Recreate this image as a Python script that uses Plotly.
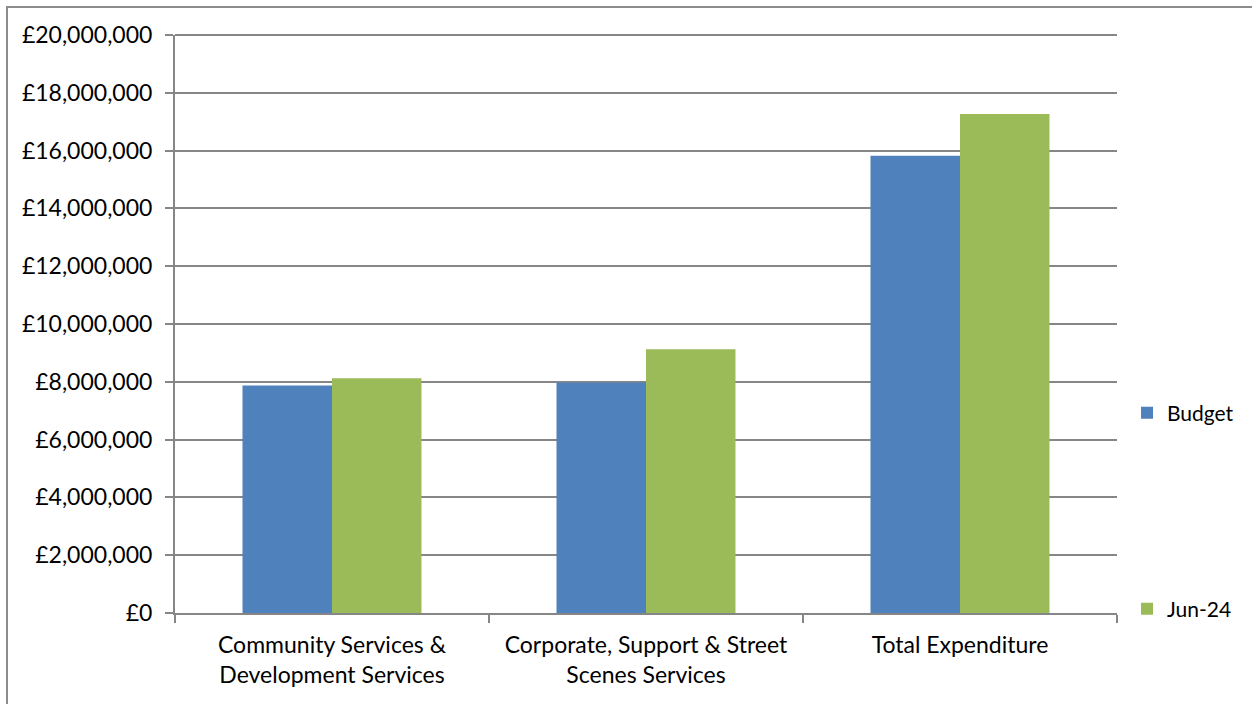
import plotly.graph_objects as go

categories = ["Community Services &<br>Development Services",
              "Corporate, Support & Street<br>Scenes Services",
              "Total Expenditure"]
budget = [7870000, 7980000, 15820000]
jun24 = [8120000, 9130000, 17270000]
tick_vals = [0, 2000000, 4000000, 6000000, 8000000, 10000000,
             12000000, 14000000, 16000000, 18000000, 20000000]
tick_text = ["£0", "£2,000,000", "£4,000,000", "£6,000,000", "£8,000,000",
             "£10,000,000", "£12,000,000", "£14,000,000", "£16,000,000",
             "£18,000,000", "£20,000,000"]

FONT = "Lato"
fig = go.Figure()
fig.add_trace(go.Bar(x=categories, y=budget, name="Budget",
                     marker=dict(color="#4f81bd", line=dict(width=0)),
                     legend="legend"))
fig.add_trace(go.Bar(x=categories, y=jun24, name="Jun-24",
                     marker=dict(color="#9bbb59", line=dict(width=0)),
                     legend="legend2"))

W, H = 1252, 704
L, R, T, B = 175, 1117, 35, 613
pw, ph = R - L, B - T

def px_x(p):
    return (p - L) / pw

def px_y(p):
    return (B - p) / ph

GRID = "#868686"
fig.update_layout(
    width=W, height=H,
    margin=dict(l=L, r=W - R, t=T, b=H - B, autoexpand=False),
    paper_bgcolor="white", plot_bgcolor="white",
    font=dict(family=FONT, size=23, color="#000000"),
    barmode="group", bargap=0.43, bargroupgap=0,
    showlegend=True,
    legend=dict(x=px_x(1127), y=px_y(413), xanchor="left", yanchor="middle",
                bgcolor="rgba(0,0,0,0)", font=dict(size=21, family=FONT),
                itemwidth=30),
    legend2=dict(x=px_x(1127), y=px_y(609), xanchor="left", yanchor="middle",
                 bgcolor="rgba(0,0,0,0)", font=dict(size=21, family=FONT),
                 itemwidth=30),
    xaxis=dict(showline=True, linecolor=GRID, linewidth=2,
               ticks="outside", tickson="boundaries", ticklen=8,
               tickcolor=GRID, tickwidth=2, showgrid=False,
               ticklabelstandoff=10,
               tickfont=dict(size=23, family=FONT)),
    yaxis=dict(range=[0, 20000000], tickvals=tick_vals, ticktext=tick_text,
               showline=True, linecolor=GRID, linewidth=2,
               ticks="outside", ticklen=8, tickcolor=GRID, tickwidth=2,
               showgrid=True, gridcolor=GRID, gridwidth=2,
               ticklabelstandoff=8,
               zeroline=False, tickfont=dict(size=23, family=FONT)),
    shapes=[dict(type="rect", xref="paper", yref="paper",
                 x0=px_x(7), x1=px_x(1300), y0=px_y(760), y1=px_y(7),
                 line=dict(color="#8c8c8c", width=2), layer="below"),
            dict(type="line", xref="paper", yref="paper",
                 x0=0, x1=1, y0=1, y1=1,
                 line=dict(color=GRID, width=2), layer="below")],
)

fig.write_html("out.html")
